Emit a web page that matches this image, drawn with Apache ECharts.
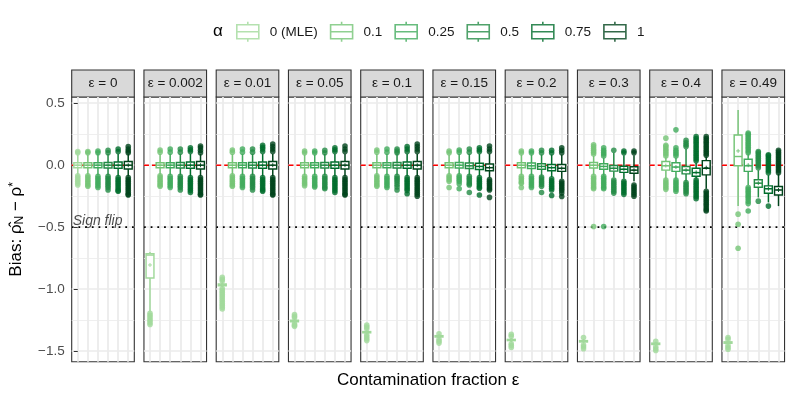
<!DOCTYPE html>
<html>
<head>
<meta charset="utf-8">
<script src="https://cdn.jsdelivr.net/npm/echarts@6/dist/echarts.min.js"></script>
<style>html,body{margin:0;padding:0;background:#fff}#c{width:793px;height:397px}</style>
</head>
<body>
<div id="c"></div>
<script>
// ---------------- data ----------------
const epsLabels = ['0', '0.002', '0.01', '0.05', '0.1', '0.15', '0.2', '0.3', '0.4', '0.49'];
const alphaLabels = ['0 (MLE)', '0.1', '0.25', '0.5', '0.75', '1'];
const alphaColors = ['#a1d99b', '#74c476', '#41ab5d', '#238b45', '#006d2c', '#00441b'];
const yTicks = [-1.5, -1, -0.5, 0, 0.5];
const yMinorTicks = [-1.25, -0.75, -0.25, 0.25];
const refZero = 0;
const signFlip = -0.5;

// box stats per epsilon: [lowWhisker, q1, median, q3, highWhisker, mean]
const statsA0 = [
  [-0.075, -0.02, 0, 0.02, 0.085, 0],
  [-1.18, -0.91, -0.725, -0.715, -0.70, -0.805],
  [-0.985, -0.972, -0.965, -0.958, -0.945, -0.966],
  [-1.27, -1.262, -1.256, -1.25, -1.242, -1.256],
  [-1.36, -1.352, -1.347, -1.342, -1.335, -1.348],
  [-1.395, -1.386, -1.38, -1.375, -1.366, -1.382],
  [-1.425, -1.415, -1.41, -1.405, -1.395, -1.412],
  [-1.435, -1.426, -1.42, -1.415, -1.405, -1.422],
  [-1.455, -1.446, -1.44, -1.435, -1.425, -1.443],
  [-1.445, -1.436, -1.43, -1.425, -1.415, -1.432]
];
const statsA1 = [
  [-0.075, -0.02, 0, 0.02, 0.085, 0],
  [-0.075, -0.02, 0, 0.02, 0.09, 0],
  [-0.075, -0.02, 0, 0.02, 0.09, 0],
  [-0.08, -0.02, 0, 0.02, 0.085, 0],
  [-0.075, -0.02, 0, 0.02, 0.09, 0],
  [-0.075, -0.02, 0, 0.02, 0.085, 0],
  [-0.08, -0.02, 0, 0.02, 0.085, 0],
  [-0.08, -0.022, 0, 0.022, 0.075, 0],
  [-0.11, -0.04, -0.005, 0.03, 0.065, -0.003],
  [-0.33, -0.005, 0.07, 0.244, 0.446, 0.115]
];
const statsA2 = [
  [-0.08, -0.02, 0, 0.02, 0.09, 0],
  [-0.08, -0.02, 0, 0.02, 0.09, 0],
  [-0.08, -0.02, 0, 0.02, 0.09, 0],
  [-0.08, -0.02, 0, 0.02, 0.085, 0],
  [-0.08, -0.02, 0, 0.02, 0.09, 0],
  [-0.075, -0.022, 0, 0.022, 0.09, 0],
  [-0.08, -0.027, -0.005, 0.017, 0.085, -0.005],
  [-0.085, -0.032, -0.01, 0.012, 0.06, -0.01],
  [-0.11, -0.05, -0.015, 0.02, 0.06, -0.015],
  [-0.16, -0.05, -0.005, 0.048, 0.09, 0.0]
];
const statsA3 = [
  [-0.08, -0.022, 0, 0.022, 0.09, 0],
  [-0.08, -0.022, 0, 0.022, 0.09, 0],
  [-0.08, -0.022, 0, 0.022, 0.09, 0],
  [-0.08, -0.022, 0, 0.022, 0.09, 0],
  [-0.08, -0.022, 0, 0.022, 0.09, 0],
  [-0.08, -0.027, -0.005, 0.017, 0.09, -0.005],
  [-0.085, -0.032, -0.01, 0.012, 0.085, -0.01],
  [-0.1, -0.048, -0.025, -0.002, 0.1, -0.025],
  [-0.13, -0.07, -0.04, -0.01, 0.13, -0.04],
  [-0.26, -0.178, -0.145, -0.118, -0.04, -0.145]
];
const statsA4 = [
  [-0.09, -0.025, 0, 0.025, 0.09, 0],
  [-0.09, -0.025, 0, 0.025, 0.09, 0],
  [-0.09, -0.025, 0, 0.025, 0.09, 0],
  [-0.09, -0.025, 0, 0.025, 0.09, 0],
  [-0.09, -0.025, 0, 0.025, 0.09, 0],
  [-0.09, -0.035, -0.01, 0.015, 0.09, -0.01],
  [-0.095, -0.045, -0.02, 0.005, 0.085, -0.02],
  [-0.11, -0.058, -0.033, -0.008, 0.08, -0.033],
  [-0.11, -0.09, -0.06, -0.025, 0.02, -0.058],
  [-0.3, -0.226, -0.19, -0.167, -0.08, -0.19]
];
const statsA5 = [
  [-0.09, -0.03, 0, 0.03, 0.09, 0],
  [-0.09, -0.03, 0, 0.03, 0.09, 0],
  [-0.09, -0.03, 0, 0.03, 0.09, 0],
  [-0.09, -0.03, 0, 0.03, 0.09, 0],
  [-0.09, -0.03, 0, 0.03, 0.09, 0],
  [-0.1, -0.045, -0.02, 0.01, 0.09, -0.02],
  [-0.11, -0.05, -0.025, 0.005, 0.085, -0.025],
  [-0.13, -0.065, -0.04, -0.012, 0.08, -0.04],
  [-0.19, -0.078, -0.025, 0.037, 0.07, -0.02],
  [-0.33, -0.24, -0.2, -0.172, -0.07, -0.2]
];

// outliers per epsilon
const outA0 = [
  [0.1, 0.11, -0.085, -0.1, -0.115, -0.13, -0.145, -0.16],
  [-1.195, -1.21, -1.225, -1.24, -1.255, -1.27, -1.285],
  [-0.905, -0.92, -0.935, -0.995, -1.01, -1.025, -1.04, -1.055, -1.07, -1.085, -1.1, -1.115, -1.13, -1.145, -1.16],
  [-1.205, -1.218, -1.23, -1.28, -1.29, -1.3],
  [-1.29, -1.305, -1.32, -1.37, -1.385, -1.4, -1.415],
  [-1.36, -1.405, -1.42, -1.435],
  [-1.365, -1.38, -1.44, -1.455, -1.47],
  [-1.39, -1.45, -1.465, -1.48],
  [-1.42, -1.465, -1.48, -1.495],
  [-1.39, -1.405, -1.455, -1.47, -1.485]
];
const outA1 = [
  [0.1, 0.11, -0.085, -0.1, -0.115, -0.13, -0.145, -0.16, -0.17],
  [0.105, 0.123, -0.085, -0.1, -0.115, -0.13, -0.145, -0.16, -0.17],
  [0.105, 0.123, -0.085, -0.1, -0.115, -0.13, -0.145, -0.16, -0.17],
  [0.1, 0.115, -0.09, -0.105, -0.12, -0.135, -0.15, -0.165],
  [0.105, 0.123, -0.085, -0.1, -0.115, -0.13, -0.145, -0.16, -0.17],
  [0.1, 0.115, -0.085, -0.1, -0.115, -0.13, -0.18],
  [0.1, 0.115, -0.09, -0.105, -0.12, -0.135, -0.145, -0.18],
  [0.09, 0.105, 0.12, 0.135, 0.15, 0.164, -0.09, -0.105, -0.12, -0.135, -0.15, -0.165, -0.18, -0.19, -0.495],
  [0.075, 0.09, 0.105, 0.12, 0.135, 0.15, 0.16, 0.218, -0.12, -0.135, -0.15, -0.165, -0.18, -0.195],
  [-0.395, -0.476, -0.67]
];
const outA2 = [
  [0.1, 0.115, -0.09, -0.105, -0.12, -0.135, -0.15, -0.165, -0.18],
  [0.105, 0.13, -0.09, -0.105, -0.12, -0.135, -0.15, -0.165, -0.18],
  [0.105, 0.13, -0.09, -0.105, -0.12, -0.135, -0.15, -0.165, -0.18],
  [0.1, 0.115, -0.09, -0.105, -0.12, -0.135, -0.15, -0.165, -0.175],
  [0.105, 0.13, -0.09, -0.105, -0.12, -0.135, -0.15, -0.165, -0.18],
  [0.105, 0.123, -0.085, -0.1, -0.115, -0.13, -0.15, -0.19],
  [0.1, 0.115, -0.09, -0.105, -0.12, -0.135, -0.15, -0.165, -0.18],
  [0.075, 0.09, 0.105, 0.12, 0.14, -0.09, -0.105, -0.12, -0.135, -0.15, -0.165, -0.18, -0.19, -0.495],
  [0.075, 0.09, 0.105, 0.12, 0.14, 0.285, -0.12, -0.135, -0.15, -0.165, -0.18, -0.195, -0.21],
  [0.1, 0.115, 0.13, 0.145, 0.16, 0.175, 0.19, 0.205, 0.22, 0.235, 0.25, 0.26, -0.18, -0.195, -0.21, -0.225, -0.24, -0.255, -0.27, -0.29, -0.31, -0.37]
];
const outA3 = [
  [0.1, 0.12, -0.09, -0.105, -0.12, -0.135, -0.15, -0.165, -0.18, -0.2],
  [0.105, 0.13, -0.09, -0.105, -0.12, -0.135, -0.15, -0.165, -0.18, -0.2],
  [0.105, 0.13, -0.09, -0.105, -0.12, -0.135, -0.15, -0.165, -0.18, -0.2],
  [0.1, 0.12, -0.09, -0.105, -0.12, -0.135, -0.15, -0.165, -0.18, -0.19],
  [0.1, 0.115, 0.13, -0.09, -0.105, -0.12, -0.135, -0.155, -0.175, -0.2],
  [0.105, 0.13, -0.09, -0.105, -0.12, -0.135, -0.15, -0.16, -0.22],
  [0.1, 0.12, -0.095, -0.11, -0.125, -0.14, -0.155, -0.17, -0.22],
  [0.12, -0.12, -0.135, -0.15, -0.165, -0.18, -0.195, -0.21, -0.225],
  [0.15, 0.165, 0.18, 0.2, -0.14, -0.155, -0.17, -0.185, -0.2, -0.215, -0.23],
  [-0.02, -0.005, 0.01, 0.025, 0.04, 0.055, 0.07, 0.085, 0.1, 0.11, -0.29]
];
const outA4 = [
  [0.11, 0.13, -0.1, -0.115, -0.13, -0.145, -0.16, -0.175, -0.19, -0.205, -0.21],
  [0.11, 0.125, 0.14, -0.1, -0.115, -0.13, -0.145, -0.16, -0.175, -0.19, -0.205, -0.22],
  [0.11, 0.13, 0.145, 0.16, -0.1, -0.115, -0.13, -0.145, -0.16, -0.175, -0.19, -0.2, -0.21],
  [0.11, 0.125, 0.14, -0.1, -0.115, -0.13, -0.145, -0.16, -0.175, -0.19, -0.205, -0.22],
  [0.11, 0.13, 0.15, -0.1, -0.115, -0.13, -0.145, -0.16, -0.175, -0.19, -0.205, -0.23],
  [0.11, 0.125, 0.14, -0.1, -0.115, -0.13, -0.145, -0.16, -0.175, -0.185, -0.24],
  [0.1, 0.12, -0.11, -0.125, -0.14, -0.155, -0.17, -0.185, -0.2, -0.245],
  [0.1, 0.115, -0.13, -0.145, -0.16, -0.175, -0.19, -0.205, -0.22, -0.235],
  [0.035, 0.05, 0.065, 0.08, 0.095, 0.11, 0.125, 0.14, 0.155, 0.17, 0.185, 0.2, 0.215, 0.23, -0.12, -0.135, -0.15, -0.165, -0.18, -0.195, -0.21, -0.225, -0.24, -0.255, -0.27],
  [-0.06, -0.045, -0.03, -0.015, 0, 0.015, 0.03, 0.045, 0.06, 0.075, 0.083, -0.33]
];
const outA5 = [
  [0.1, 0.115, 0.13, 0.15, -0.1, -0.115, -0.13, -0.145, -0.16, -0.175, -0.19, -0.205, -0.22, -0.235, -0.24],
  [0.1, 0.12, 0.14, 0.155, -0.1, -0.115, -0.13, -0.145, -0.16, -0.175, -0.19, -0.205, -0.22, -0.235, -0.24],
  [0.11, 0.13, 0.15, 0.17, -0.1, -0.115, -0.13, -0.145, -0.16, -0.175, -0.19, -0.205, -0.22, -0.235, -0.24],
  [0.11, 0.13, 0.155, -0.1, -0.115, -0.13, -0.145, -0.16, -0.175, -0.19, -0.205, -0.22, -0.235, -0.24],
  [0.11, 0.13, 0.15, 0.17, -0.1, -0.115, -0.13, -0.145, -0.16, -0.175, -0.19, -0.205, -0.22, -0.235, -0.25],
  [0.11, 0.13, 0.155, -0.115, -0.13, -0.145, -0.16, -0.175, -0.19, -0.2, -0.26],
  [0.1, 0.12, 0.14, -0.13, -0.145, -0.16, -0.175, -0.19, -0.205, -0.225, -0.253],
  [0.1, 0.115, -0.16, -0.175, -0.19, -0.205, -0.22, -0.235, -0.25],
  [0.08, 0.095, 0.11, 0.125, 0.14, 0.155, 0.17, 0.185, 0.2, 0.215, 0.23, -0.21, -0.225, -0.24, -0.255, -0.27, -0.285, -0.3, -0.315, -0.33, -0.345, -0.36, -0.37],
  [-0.06, -0.045, -0.03, -0.015, 0, 0.015, 0.03, 0.045, 0.06, 0.075, 0.09, 0.105, 0.12]
];

const statsByAlpha = [statsA0, statsA1, statsA2, statsA3, statsA4, statsA5];
const outByAlpha = [outA0, outA1, outA2, outA3, outA4, outA5];

// ---------------- layout ----------------
const FONT = 'Liberation Sans, Arial, Helvetica, sans-serif';
const gridLeft0 = 71.7, pitch = 72.25, gridW = 62.6, gridTop = 97, gridH = 264.7;
const stripTop = 70, stripH = 27;
const yMin = -1.585, yMax = 0.55;
const xMin = -0.6, xMax = 5.6;
const xPositions = alphaLabels.map((_, i) => i);
const BOX_LW = 1.45;

function fmtY(v) {
  return v.toFixed(1).replace('-', '\u2212');
}

function renderBox(params, api) {
  const x = api.value(0);
  const c = api.visual('color');
  const lo = api.coord([x, api.value(1)]);
  const q1 = api.coord([x, api.value(2)]);
  const md = api.coord([x, api.value(3)]);
  const q3 = api.coord([x, api.value(4)]);
  const hi = api.coord([x, api.value(5)]);
  const mn = api.coord([x, api.value(6)]);
  const hw = api.size([0.78, 0])[0] / 2;
  const px = lo[0];
  const ls = { stroke: c, lineWidth: BOX_LW, fill: null };
  return {
    type: 'group',
    children: [
      { type: 'line', shape: { x1: px, y1: hi[1], x2: px, y2: q3[1] }, style: ls },
      { type: 'line', shape: { x1: px, y1: q1[1], x2: px, y2: lo[1] }, style: ls },
      { type: 'rect', shape: { x: px - hw, y: q3[1], width: 2 * hw, height: Math.max(q1[1] - q3[1], 0.5) },
        style: { fill: '#ffffff', stroke: c, lineWidth: BOX_LW } },
      { type: 'line', shape: { x1: px - hw, y1: md[1], x2: px + hw, y2: md[1] }, style: ls },
      { type: 'line', shape: { x1: px - 2, y1: mn[1], x2: px + 2, y2: mn[1] }, style: { stroke: c, lineWidth: 0.9 } },
      { type: 'line', shape: { x1: px, y1: mn[1] - 2, x2: px, y2: mn[1] + 2 }, style: { stroke: c, lineWidth: 0.9 } }
    ]
  };
}

const grids = [], xAxes = [], yAxes = [], series = [], graphics = [];

epsLabels.forEach((eps, e) => {
  const left = gridLeft0 + e * pitch;
  grids.push({
    left: left, top: gridTop, width: gridW, height: gridH,
    show: true, backgroundColor: '#ffffff', borderColor: '#333333', borderWidth: 1.1,
    containLabel: false
  });
  xAxes.push({
    gridIndex: e, type: 'value', min: xMin, max: xMax,
    axisLine: { show: false }, axisLabel: { show: false },
    axisTick: { show: false, customValues: xPositions },
    splitLine: { show: true, lineStyle: { color: '#ebebeb', width: 1.8 } }
  });
  const yMajor = {
    gridIndex: e, type: 'value', min: yMin, max: yMax, position: 'left',
    axisLine: { show: false },
    axisTick: { show: e === 0, customValues: yTicks, length: 4, lineStyle: { color: '#333333', width: 1 } },
    axisLabel: { show: e === 0, customValues: yTicks, formatter: fmtY, color: '#4d4d4d', fontSize: 13.5, fontFamily: FONT, margin: 7 },
    splitLine: { show: true, lineStyle: { color: '#ebebeb', width: 1.6 } }
  };
  if (e === 0) {
    yMajor.name = '{t|Bias: \u03C1\u0302}{sub|N}{t| \u2212 \u03C1}{sup|*}';
    yMajor.nameLocation = 'middle';
    yMajor.nameRotate = 90;
    yMajor.nameGap = 46;
    yMajor.nameTextStyle = {
      color: '#000', fontFamily: FONT,
      rich: {
        t: { fontSize: 17, fontFamily: FONT, color: '#000' },
        sub: { fontSize: 12, fontFamily: FONT, color: '#000', padding: [7, 0, 0, 0] },
        sup: { fontSize: 12, fontFamily: FONT, color: '#000', padding: [0, 0, 6, 0] }
      }
    };
  }
  yAxes.push(yMajor);
  yAxes.push({
    gridIndex: e, type: 'value', min: yMin, max: yMax, position: 'left',
    axisLine: { show: false }, axisLabel: { show: false },
    axisTick: { show: false, customValues: yMinorTicks },
    splitLine: { show: true, lineStyle: { color: '#ebebeb', width: 0.8 } }
  });

  // reference lines (drawn as line series across the panel)
  series.push({
    type: 'line', xAxisIndex: e, yAxisIndex: 2 * e, silent: true, z: 1,
    data: [[xMin, refZero], [xMax, refZero]], showSymbol: false, symbol: 'none',
    lineStyle: { color: '#ff0000', type: [5, 3], width: 1.4 },
    itemStyle: { color: '#ff0000' }, animation: false
  });
  series.push({
    type: 'line', xAxisIndex: e, yAxisIndex: 2 * e, silent: true, z: 1,
    data: [[xMin, signFlip], [xMax, signFlip]], showSymbol: false, symbol: 'none',
    lineStyle: { color: '#000000', type: [1.8, 4.9], width: 1.8, cap: 'butt' },
    itemStyle: { color: '#000000' }, animation: false
  });

  alphaLabels.forEach((a, i) => {
    series.push({
      type: 'scatter', name: a, xAxisIndex: e, yAxisIndex: 2 * e,
      data: outByAlpha[i][e].map(v => [i, v]),
      symbolSize: 5.6, itemStyle: { color: alphaColors[i] }, z: 2, silent: true, animation: false
    });
    series.push({
      type: 'custom', name: a, xAxisIndex: e, yAxisIndex: 2 * e,
      data: [[i].concat(statsByAlpha[i][e])],
      encode: { x: 0, y: [1, 2, 3, 4, 5, 6] },
      renderItem: renderBox,
      itemStyle: { color: alphaColors[i] }, z: 3, silent: true, animation: false
    });
  });

  // strip
  graphics.push({
    type: 'rect', shape: { x: left, y: stripTop, width: gridW, height: stripH },
    style: { fill: '#d9d9d9', stroke: '#333333', lineWidth: 1.1 }, silent: true
  });
  graphics.push({
    type: 'text', x: left + gridW / 2, y: stripTop + stripH / 2,
    style: { text: '\u03B5 = ' + eps, fill: '#1a1a1a', fontSize: 13.5, fontFamily: FONT, align: 'center', verticalAlign: 'middle' },
    silent: true
  });
});

// Sign flip annotation
series.push({
  type: 'scatter', xAxisIndex: 0, yAxisIndex: 0, z: 4, silent: true,
  data: [[xMin, -0.45]], symbolSize: 0,
  label: { show: true, position: 'right', distance: 1, formatter: 'Sign flip', fontStyle: 'italic', fontSize: 14, fontFamily: FONT, color: '#1a1a1a' }
});

// titles
graphics.push({
  type: 'text', x: gridLeft0 + (9 * pitch + gridW) / 2, y: 380,
  style: { text: 'Contamination fraction \u03B5', fill: '#000', fontSize: 17, fontFamily: FONT, align: 'center', verticalAlign: 'middle' },
  silent: true
});
graphics.push({
  type: 'text', x: 213, y: 31,
  style: { text: '\u03B1', fill: '#000', fontSize: 17, fontFamily: FONT, align: 'left', verticalAlign: 'middle' },
  silent: true
});

const boxIcon = 'path://M11,0L11,3M0,3L22,3L22,17L0,17ZM0,10L22,10M11,17L11,20';

const chart = echarts.init(document.getElementById('c'), null, { renderer: 'canvas' });
chart.setOption({
  animation: false,
  backgroundColor: '#ffffff',
  textStyle: { fontFamily: FONT },
  grid: grids,
  xAxis: xAxes,
  yAxis: yAxes,
  legend: {
    left: 236, top: 21, padding: 0, itemWidth: 22, itemHeight: 20, itemGap: 12,
    selectedMode: false,
    textStyle: { fontSize: 13.5, fontFamily: FONT, color: '#1a1a1a', padding: [0, 0, 0, 6] },
    data: alphaLabels.map((a, i) => ({
      name: a, icon: boxIcon,
      itemStyle: { color: '#ffffff', borderColor: alphaColors[i], borderWidth: 1.6 }
    }))
  },
  graphic: graphics,
  series: series
});
</script>
</body>
</html>
